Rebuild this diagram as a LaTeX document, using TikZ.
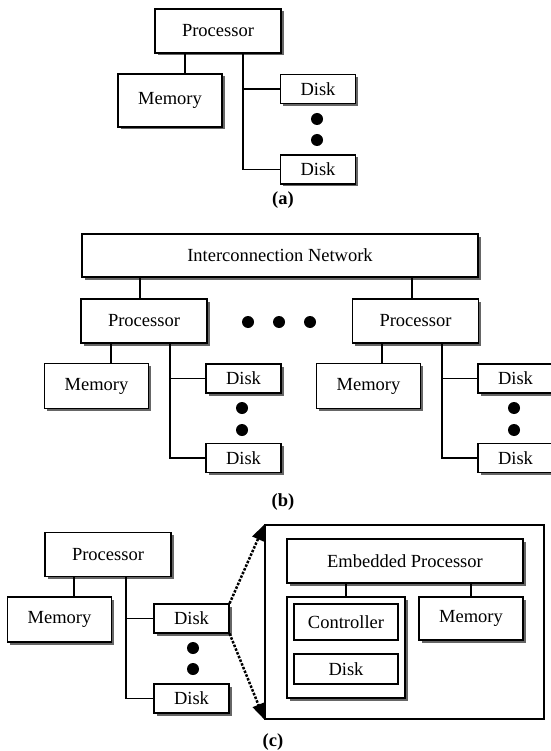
\documentclass[tikz,border=0pt]{standalone}
\usepackage{fontspec}
\setmainfont{Liberation Serif}
\usetikzlibrary{arrows.meta,shadows}

\begin{document}
\begin{tikzpicture}[
  x=1pt, y=-1pt,
  bx/.style={draw, fill=white, line width=1.2pt, inner sep=0pt, font=\fontsize{18.5}{20}\selectfont,
    drop shadow={shadow xshift=2.5pt, shadow yshift=-2.5pt, fill=black!60, opacity=1}},
  plainbx/.style={draw, fill=white, line width=1.2pt, inner sep=0pt, font=\fontsize{18.5}{20}\selectfont},
  proc/.style={bx, minimum width=126pt, minimum height=44pt},
  mem/.style={bx, minimum width=104pt, minimum height=45pt},
  disk/.style={bx, minimum width=75pt, minimum height=29pt},
  wire/.style={line width=1.5pt},
  blob/.style={circle, fill=black, inner sep=0pt, minimum size=12pt},
  sublbl/.style={font=\fontsize{18.5}{20}\selectfont\bfseries},
  zoomarr/.style={line width=2.5pt, dash pattern=on 2.5pt off 1.5pt, -{Triangle[length=16pt,width=12pt]}},
]
\useasboundingbox (0,0) rectangle (550,751);

% (a) single node
\node[proc]                      (procA)  at (218,31)    {Processor};
\node[mem, minimum height=53pt]  (memA)   at (170,100.5) {Memory};
\node[disk]                      (diskA1) at (318,89)    {Disk};
\node[disk]                      (diskA2) at (318,169.5) {Disk};
\node[blob] (dA1) at (317,119) {};
\node[blob] (dA2) at (317,140) {};
\node[sublbl] (la) at (283,200) {(a)};

\draw[wire] (procA.south -| 185,0) -- (memA.north -| 185,0);
\draw[wire] (procA.south -| 243,0) |- (diskA2.west);
\draw[wire] (diskA1.west) -- (diskA1.west -| 243,0);

% (b) shared nothing
\node[bx, minimum width=396pt, minimum height=43pt] (net) at (280,255.5) {Interconnection Network};
\node[proc] (procBL)  at (144,321)     {Processor};
\node[proc] (procBR)  at (415.5,321)   {Processor};
\node[mem]  (memBL)   at (96.5,386)    {Memory};
\node[mem]  (memBR)   at (368.5,386)   {Memory};
\node[disk] (diskBL1) at (243.5,378.5) {Disk};
\node[disk] (diskBL2) at (243.5,458)   {Disk};
\node[disk] (diskBR1) at (515.5,378.5) {Disk};
\node[disk] (diskBR2) at (515.5,458)   {Disk};
\node[blob] (dB1) at (248,322) {};
\node[blob] (dB2) at (279,322) {};
\node[blob] (dB3) at (310,322) {};
\node[blob] (dBL1) at (242,408) {};
\node[blob] (dBL2) at (242,430) {};
\node[blob] (dBR1) at (514,408) {};
\node[blob] (dBR2) at (514,430) {};
\node[sublbl] (lb) at (283,502) {(b)};

\draw[wire] (net.south -| 140,0) -- (procBL.north -| 140,0);
\draw[wire] (net.south -| 412,0) -- (procBR.north -| 412,0);
\draw[wire] (procBL.south -| 111,0) -- (memBL.north -| 111,0);
\draw[wire] (procBR.south -| 382,0) -- (memBR.north -| 382,0);
\draw[wire] (procBL.south -| 170,0) |- (diskBL2.west);
\draw[wire] (diskBL1.west) -- (diskBL1.west -| 170,0);
\draw[wire] (procBR.south -| 442,0) |- (diskBR2.west);
\draw[wire] (diskBR1.west) -- (diskBR1.west -| 442,0);

% (c) active disk
\node[proc] (procC)  at (108,554.5)   {Processor};
\node[mem]  (memC)   at (59.5,619.5)  {Memory};
\node[disk] (diskC1) at (191.5,618.5) {Disk};
\node[disk] (diskC2) at (191.5,698.5) {Disk};
\node[blob] (dC1) at (193,648) {};
\node[blob] (dC2) at (193,669) {};
\node[sublbl] (lc) at (273,742) {(c)};

\draw[wire] (procC.south -| 74,0) -- (memC.north -| 74,0);
\draw[wire] (procC.south -| 126,0) |- (diskC2.west);
\draw[wire] (diskC1.west) -- (diskC1.west -| 126,0);

\node[draw, line width=1.2pt, inner sep=0pt, minimum width=279pt, minimum height=194pt] (big) at (404.5,622) {};
\node[bx, minimum width=236pt, minimum height=44pt]  (embP)   at (405,561)   {Embedded Processor};
\node[bx, minimum width=118pt, minimum height=101pt] (grp)    at (346,647.5) {};
\node[plainbx, minimum width=104pt, minimum height=36pt] (ctrl)   at (346,622) {Controller};
\node[plainbx, minimum width=104pt, minimum height=30pt] (diskIn) at (346,669) {Disk};
\node[mem, minimum height=43pt] (memIn) at (471,618.5) {Memory};

\draw[wire] (embP.south -| 346,0) -- (grp.north);
\draw[wire] (embP.south -| 471,0) -- (memIn.north);
\draw[zoomarr] (diskC1.north east) -- (big.north west);
\draw[zoomarr] (diskC1.south east) -- (big.south west);
\end{tikzpicture}
\end{document}
